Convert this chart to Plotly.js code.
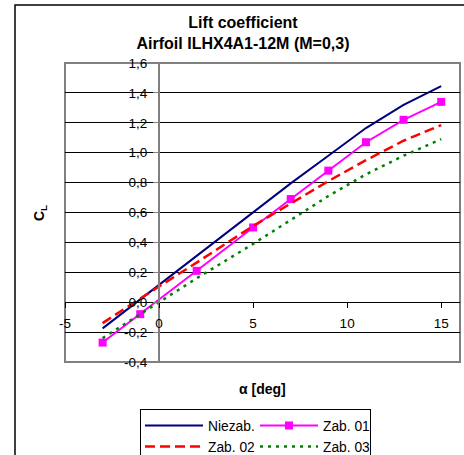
<!DOCTYPE html>
<html>
<head>
<meta charset="utf-8">
<script src="https://cdn.plot.ly/plotly-3.0.1.min.js"></script>
<style>
  html, body { margin: 0; padding: 0; background: #ffffff; }
  #chart { width: 464px; height: 455px; }
</style>
</head>
<body>
<div id="chart"></div>
<script>
// Angle of attack [deg]
const alpha = [-3, -1, 2, 5, 7, 9, 11, 13, 15];

// Lift coefficient C_L for each configuration
const clNiezab = [-0.175, 0.02, 0.31, 0.60, 0.795, 0.98, 1.165, 1.32, 1.445];
const clZab01  = [-0.27, -0.08, 0.21, 0.50, 0.69, 0.88, 1.07, 1.22, 1.34];
const clZab02  = [-0.14, 0.025, 0.265, 0.51, 0.66, 0.81, 0.95, 1.08, 1.185];
const clZab03  = [-0.24, -0.08, 0.16, 0.39, 0.55, 0.71, 0.855, 0.98, 1.09];

const seriesNames = ['Niezab.', 'Zab. 01', 'Zab. 02', 'Zab. 03'];
// legend columns: left column and right column
const legendColumns = ['left', 'right', 'left', 'right'];

// Axis ticks
const xTickVals = [-5, 0, 5, 10, 15];
const xTickText = ['-5', '0', '5', '10', '15'];
const yTickVals = [-0.4, -0.2, 0, 0.2, 0.4, 0.6, 0.8, 1.0, 1.2, 1.4, 1.6];
const yTickText = ['-0,4', '-0,2', '0,0', '0,2', '0,4', '0,6', '0,8', '1,0', '1,2', '1,4', '1,6'];

const xRange = [-5, 16];
const yRange = [-0.4, 1.6];

const FONT = 'Liberation Sans, Arial, sans-serif';

// Geometry of the plot area inside the 464x455 canvas
const W = 464, H = 455;
const M = { l: 65, r: 4, t: 63, b: 93 };
const plotW = W - M.l - M.r;
const plotH = H - M.t - M.b;
const pxToPaperX = px => (px - M.l) / plotW;
const pxToPaperY = py => (H - M.b - py) / plotH;

// Axes cross at the origin
const xAxisPos = (0 - yRange[0]) / (yRange[1] - yRange[0]);
const yAxisPos = (0 - xRange[0]) / (xRange[1] - xRange[0]);

const traces = [
  {
    x: alpha, y: clNiezab, name: seriesNames[0], legendgroup: legendColumns[0],
    type: 'scatter', mode: 'lines',
    line: { color: '#000080', width: 2 }
  },
  {
    x: alpha, y: clZab01, name: seriesNames[1], legendgroup: legendColumns[1],
    type: 'scatter', mode: 'lines+markers',
    line: { color: '#FF00FF', width: 2 },
    marker: { symbol: 'square', size: 8, color: '#FF00FF' }
  },
  {
    x: alpha, y: clZab02, name: seriesNames[2], legendgroup: legendColumns[2],
    type: 'scatter', mode: 'lines',
    line: { color: '#FF0000', width: 2.5, dash: '10px,5px' }
  },
  {
    x: alpha, y: clZab03, name: seriesNames[3], legendgroup: legendColumns[3],
    type: 'scatter', mode: 'lines',
    line: { color: '#008000', width: 2.5, dash: '3px,5px' }
  }
];

const layout = {
  width: W, height: H,
  margin: { l: M.l, r: M.r, t: M.t, b: M.b, autoexpand: false },
  paper_bgcolor: '#ffffff',
  plot_bgcolor: '#ffffff',
  font: { family: FONT, color: '#000000', size: 13.5 },
  title: {
    text: 'Lift coefficient<br>Airfoil ILHX4A1-12M (M=0,3)',
    font: { family: FONT, size: 16, weight: 'bold', color: '#000000' },
    xref: 'container', x: 243 / W, xanchor: 'center',
    yref: 'container', y: 1 - 28 / H, yanchor: 'top'
  },
  xaxis: {
    range: xRange,
    anchor: 'free', position: xAxisPos,
    showgrid: false, zeroline: false,
    showline: true, linecolor: '#000000', linewidth: 1,
    ticks: 'outside', ticklen: 5, tickwidth: 1, tickcolor: '#000000',
    tickvals: xTickVals, ticktext: xTickText,
    ticklabelstandoff: 4,
    tickfont: { family: FONT, size: 13.5, color: '#000000' }
  },
  yaxis: {
    range: yRange,
    anchor: 'free', position: yAxisPos,
    showgrid: true, gridcolor: '#000000', gridwidth: 1,
    zeroline: false,
    showline: true, linecolor: '#808080', linewidth: 2,
    ticks: 'outside', ticklen: 5, tickwidth: 1, tickcolor: '#808080',
    tickvals: yTickVals, ticktext: yTickText,
    ticklabelstandoff: 3,
    tickfont: { family: FONT, size: 13.5, color: '#000000' }
  },
  shapes: [
    // plot area frame
    {
      type: 'rect', xref: 'paper', yref: 'paper', x0: 0, x1: 1, y0: 0, y1: 1,
      line: { color: '#808080', width: 2 }, layer: 'between'
    },
    // chart area frame
    {
      type: 'rect', xref: 'paper', yref: 'paper',
      x0: pxToPaperX(15), x1: pxToPaperX(475),
      y0: pxToPaperY(475), y1: pxToPaperY(5),
      line: { color: '#000000', width: 1.5 }, layer: 'below'
    }
  ],
  annotations: [
    {
      text: '<b>α [deg]</b>', xref: 'paper', yref: 'paper',
      x: pxToPaperX(262), y: pxToPaperY(389), xanchor: 'center', yanchor: 'middle',
      showarrow: false, font: { family: FONT, size: 14, color: '#000000' }
    },
    {
      text: '<b>C<sub>L</sub></b>', xref: 'paper', yref: 'paper',
      x: pxToPaperX(40), y: pxToPaperY(213), xanchor: 'center', yanchor: 'middle',
      textangle: -90,
      showarrow: false, font: { family: FONT, size: 14, color: '#000000' }
    }
  ],
  showlegend: true,
  legend: {
    orientation: 'h',
    x: pxToPaperX(140), xanchor: 'left',
    y: pxToPaperY(409), yanchor: 'top',
    bgcolor: '#ffffff', bordercolor: '#000000', borderwidth: 1,
    font: { family: FONT, size: 13.8, color: '#000000' },
    entrywidth: 42, entrywidthmode: 'pixels',
    itemwidth: 58,
    traceorder: 'grouped',
    tracegroupgap: 0
  }
};

Plotly.newPlot('chart', traces, layout, { displayModeBar: false, staticPlot: true });
</script>
</body>
</html>
